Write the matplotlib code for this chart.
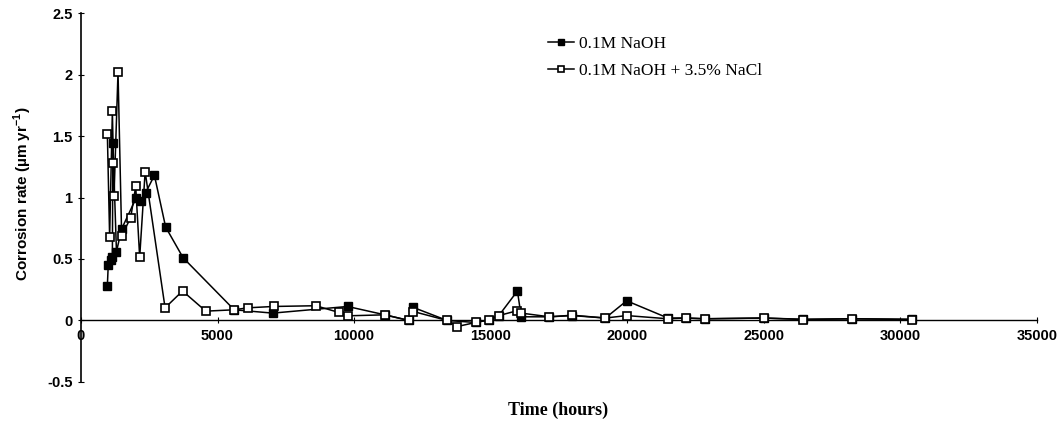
import matplotlib
matplotlib.use("Agg")
import matplotlib.pyplot as plt

# 0.1M NaOH (filled squares)
t_naoh = [966, 1000, 1090, 1150, 1170, 1300, 1490, 2030, 2190, 2370, 2690, 3100, 3740,
          5610, 7020, 9760, 11130, 12010, 12170, 13410, 14450, 14940, 15300, 15980,
          16120, 17150, 17990, 19200, 19980, 21490, 22150, 22840, 25000, 26440, 28230, 30430]
r_naoh = [0.28, 0.455, 0.49, 0.515, 1.44, 0.56, 0.745, 1.0, 0.975, 1.04, 1.18, 0.76, 0.51,
          0.087, 0.06, 0.114, 0.046, 0.0, 0.106, 0.0, -0.016, 0.005, 0.04, 0.24,
          0.03, 0.03, 0.04, 0.02, 0.16, 0.02, 0.02, 0.014, 0.02, 0.01, 0.014, 0.01]

# 0.1M NaOH + 3.5% NaCl (open squares)
t_nacl = [966, 1050, 1150, 1190, 1210, 1357, 1490, 1820, 2005, 2150, 2350, 3080, 3720,
          4570, 5610, 6100, 7050, 8600, 9450, 9760, 11130, 12010, 12170, 13410, 13780,
          14450, 14940, 15300, 15980, 16120, 17150, 17990, 19200, 19980, 21490, 22150,
          22840, 25000, 26440, 28230, 30430]
r_nacl = [1.52, 0.68, 1.70, 1.28, 1.01, 2.02, 0.69, 0.835, 1.09, 0.515, 1.21, 0.103, 0.24,
          0.076, 0.087, 0.103, 0.114, 0.12, 0.065, 0.038, 0.046, 0.0, 0.073, 0.0, -0.049,
          -0.016, 0.005, 0.04, 0.08, 0.06, 0.03, 0.043, 0.02, 0.04, 0.014, 0.02,
          0.014, 0.02, 0.008, 0.014, 0.008]

x_ticks = [0, 5000, 10000, 15000, 20000, 25000, 30000, 35000]
y_ticks = [-0.5, 0, 0.5, 1, 1.5, 2, 2.5]
y_ticklabels = ["-0.5", "0", "0.5", "1", "1.5", "2", "2.5"]

fig = plt.figure(figsize=(10.61, 4.28), dpi=100)
ax = fig.add_axes([0.0763, 0.1075, 0.901, 0.8621])

ax.plot(t_naoh, r_naoh, "-s", color="black", lw=1.1, ms=5.5,
        mfc="black", mec="black", mew=1.0, label="0.1M NaOH", zorder=3)
ax.plot(t_nacl, r_nacl, "-s", color="black", lw=1.1, ms=6,
        mfc="white", mec="black", mew=1.2, label="0.1M NaOH + 3.5% NaCl", zorder=4)

ax.set_xlim(0, 35000)
ax.set_ylim(-0.5, 2.5)

for s in ["top", "right"]:
    ax.spines[s].set_visible(False)
ax.spines["bottom"].set_position(("data", 0))
ax.spines["left"].set_linewidth(1.2)
ax.spines["bottom"].set_linewidth(1.0)

ax.set_xticks(x_ticks)
ax.set_xticklabels([str(v) for v in x_ticks])
ax.set_yticks(y_ticks)
ax.set_yticklabels(y_ticklabels)
ax.tick_params(axis="both", direction="inout", length=4, width=0.8, pad=4)
for lab in ax.get_xticklabels() + ax.get_yticklabels():
    lab.set_family("Liberation Sans")
    lab.set_fontweight("bold")
    lab.set_fontsize(10.5)

fig.text(0.022, 0.547, "Corrosion rate (\u00b5m yr$^{\\mathregular{-1}}$)", family="Liberation Sans",
         fontweight="bold", fontsize=11, rotation=90, ha="center", va="center")
fig.text(0.526, 0.042, "Time (hours)", family="Liberation Serif", fontweight="bold",
         fontsize=13, ha="center", va="center")

leg = ax.legend(loc="upper left", bbox_to_anchor=(0.472, 0.98), frameon=False,
                prop={"family": "Liberation Serif", "size": 12.5},
                handlelength=1.5, handletextpad=0.3, labelspacing=0.6, markerscale=0.75)

fig.savefig("out.png", dpi=100)
